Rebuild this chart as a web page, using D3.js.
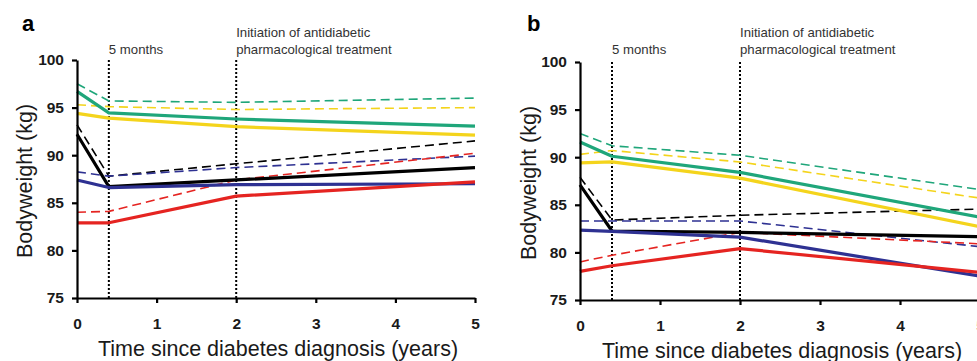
<!DOCTYPE html>
<html>
<head>
<meta charset="utf-8">
<script src="https://cdn.jsdelivr.net/npm/d3@7"></script>
<style>
  body { margin: 0; background: #fff; }
  svg { display: block; font-family: "Liberation Sans", Arial, sans-serif; }
</style>
</head>
<body>
<div id="chart"></div>
<script>
var svgWidth = 977;
var svgHeight = 361;

// time points (years since diagnosis)
var times = [0, 0.4, 2, 5];
var xTicks = [0, 1, 2, 3, 4, 5];
var yTicks = [75, 80, 85, 90, 95, 100];

var seriesColors = ["#1fa67a", "#f4d41c", "#000000", "#2e3192", "#e52421"];

// panel a
var aGreen = [96.7, 94.45, 93.8, 93.05];
var aGreenDash = [97.5, 95.7, 95.55, 96.0];
var aYellow = [94.4, 93.9, 93.0, 92.1];
var aYellowDash = [95.3, 95.1, 94.8, 95.0];
var aBlack = [92.2, 86.7, 87.4, 88.7];
var aBlackDash = [93.2, 87.8, 89.1, 91.5];
var aBlue = [87.4, 86.6, 86.9, 87.0];
var aBlueDash = [88.25, 87.8, 88.7, 89.9];
var aRed = [82.9, 82.9, 85.7, 87.2];
var aRedDash = [84.0, 84.1, 87.4, 90.2];

// panel b
var bGreen = [91.6, 90.1, 88.4, 83.7];
var bGreenDash = [92.5, 91.2, 90.2, 86.6];
var bYellow = [89.4, 89.5, 87.8, 82.7];
var bYellowDash = [90.3, 90.7, 89.5, 85.7];
var bBlack = [87.1, 82.25, 82.1, 81.65];
var bBlackDash = [87.9, 83.4, 83.9, 84.55];
var bBlue = [82.35, 82.2, 81.6, 77.5];
var bBlueDash = [83.3, 83.3, 83.3, 80.6];
var bRed = [78.0, 78.6, 80.4, 77.9];
var bRedDash = [79.0, 79.7, 82.1, 80.9];

var svg = d3.select("#chart")
  .append("svg")
  .attr("width", svgWidth)
  .attr("height", svgHeight);

drawPanel({
  label: "a", labelX: 22, x0: 77, x1: 475, yTop: 60, yBottom: 298, titleX: 24,
  solid: [aGreen, aYellow, aBlack, aBlue, aRed],
  dashed: [aGreenDash, aYellowDash, aBlackDash, aBlueDash, aRedDash]
});

drawPanel({
  label: "b", labelX: 527, x0: 580, x1: 980, yTop: 62, yBottom: 300, titleX: 528,
  solid: [bGreen, bYellow, bBlack, bBlue, bRed],
  dashed: [bGreenDash, bYellowDash, bBlackDash, bBlueDash, bRedDash]
});

function drawPanel(p) {
  var x = d3.scaleLinear().domain([0, 5]).range([p.x0, p.x1]);
  var y = d3.scaleLinear().domain([75, 100]).range([p.yBottom, p.yTop]);

  var g = svg.append("g");

  // reference lines
  [0.4, 2].forEach(function(t) {
    g.append("line")
      .attr("x1", x(t)).attr("x2", x(t))
      .attr("y1", y(100)).attr("y2", y(75))
      .attr("stroke", "#000")
      .attr("stroke-width", 2)
      .attr("stroke-dasharray", "2,2");
  });

  g.append("text")
    .attr("x", x(0.4)).attr("y", 54)
    .attr("font-size", "13.2px").attr("fill", "#333")
    .text("5 months");
  g.append("text")
    .attr("x", x(2)).attr("y", 37)
    .attr("font-size", "13.2px").attr("fill", "#333")
    .text("Initiation of antidiabetic");
  g.append("text")
    .attr("x", x(2)).attr("y", 54)
    .attr("font-size", "13.2px").attr("fill", "#333")
    .text("pharmacological treatment");

  var line = d3.line()
    .x((d, i) => x(times[i]))
    .y(d => y(d));

  p.dashed.forEach(function(s, i) {
    g.append("path")
      .attr("d", line(s))
      .attr("fill", "none")
      .attr("stroke", seriesColors[i])
      .attr("stroke-width", 1.6)
      .attr("stroke-dasharray", "9,5");
  });
  p.solid.forEach(function(s, i) {
    g.append("path")
      .attr("d", line(s))
      .attr("fill", "none")
      .attr("stroke", seriesColors[i])
      .attr("stroke-width", 3.2)
      .attr("stroke-linejoin", "round");
  });

  var yAxis = d3.axisLeft(y).tickValues(yTicks).tickSize(5).tickSizeOuter(0).tickPadding(8);
  var xAxis = d3.axisBottom(x).tickValues(xTicks).tickFormat(d3.format("d"))
    .tickSize(5).tickSizeOuter(0).tickPadding(15);

  var ya = g.append("g")
    .attr("transform", `translate(${p.x0}, 0)`)
    .call(yAxis);
  var xa = g.append("g")
    .attr("transform", `translate(0, ${p.yBottom})`)
    .call(xAxis);

  [ya, xa].forEach(function(a) {
    a.select(".domain").attr("stroke-width", 2.2);
    a.selectAll(".tick line").attr("stroke-width", 2.2);
    a.selectAll(".tick text")
      .attr("font-family", "Liberation Sans, Arial, sans-serif")
      .attr("font-size", "15.5px")
      .attr("font-weight", "bold")
      .attr("fill", "#1a1a1a");
  });

  g.append("text")
    .attr("transform", `translate(${p.titleX}, ${(p.yTop + p.yBottom) / 2 + 2}) rotate(-90)`)
    .attr("text-anchor", "middle")
    .attr("dy", "0.35em")
    .attr("font-size", "21.5px")
    .attr("fill", "#1a1a1a")
    .text("Bodyweight (kg)");

  g.append("text")
    .attr("x", x(2.5) + 2)
    .attr("y", p.yBottom + 58)
    .attr("text-anchor", "middle")
    .attr("font-size", "21.5px")
    .attr("fill", "#1a1a1a")
    .text("Time since diabetes diagnosis (years)");

  g.append("text")
    .attr("x", p.labelX).attr("y", 31)
    .attr("font-size", "22px")
    .attr("font-weight", "bold")
    .text(p.label);
}
</script>
</body>
</html>
